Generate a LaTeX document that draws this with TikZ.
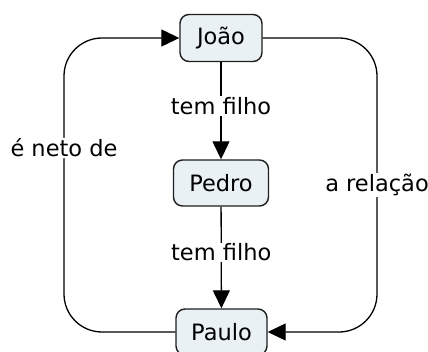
\documentclass[tikz,border=0pt]{standalone}
\usepackage{fontspec}
\setmainfont{DejaVu Sans}
\usepackage{xcolor}
\usetikzlibrary{positioning,arrows.meta}
\definecolor{boxfill}{RGB}{233,241,245}
\definecolor{boxline}{RGB}{30,30,30}

\begin{document}
\begin{tikzpicture}[x=1pt, y=1pt,
        pessoa/.style={rectangle, rounded corners=9pt, draw=boxline,
                       fill=boxfill, line width=1.4pt,
                       font=\fontsize{22.5}{27}\selectfont},
        lig/.style={black, line width=1.3pt},
        seta/.style={lig, -{Triangle[length=18pt,width=17pt]}},
        rotulo/.style={fill=white, inner sep=1pt,
                       font=\fontsize{22.5}{27}\selectfont}
      ]
        \useasboundingbox (0,0) rectangle (428,351);
        \begin{scope}
        \clip (0,0) rectangle (428,351);
        \node[pessoa, minimum width=82pt, minimum height=47pt] at (221,313) (Joao) {João};
        \node[pessoa, minimum width=95pt, minimum height=46pt] at (221,168) (Pedro) {Pedro};
        \node[pessoa, minimum width=91pt, minimum height=46pt] at (221.5,19) (Paulo) {Paulo};
        \coordinate (esq) at (64,203);
        \coordinate (dir) at (377,166);
        % Joao - Pedro - Paulo (vertical chain)
        \draw[seta] (Joao) -- node[rotulo, pos=0.45] {tem filho} (Pedro);
        \draw[seta] (Pedro) -- node[rotulo, pos=0.45] {tem filho} (Paulo);
        % left loop: Paulo back up to Joao
        \draw[seta, rounded corners=38pt]
              (Paulo.west) -| (esq) node[rotulo] {é neto de} |- (Joao.west);
        % right loop: Joao down to Paulo
        \draw[seta, rounded corners=38pt]
              (Joao.east) -| (dir) node[rotulo] {a relação} |- (Paulo.east);
        \end{scope}
      \end{tikzpicture}
\end{document}
